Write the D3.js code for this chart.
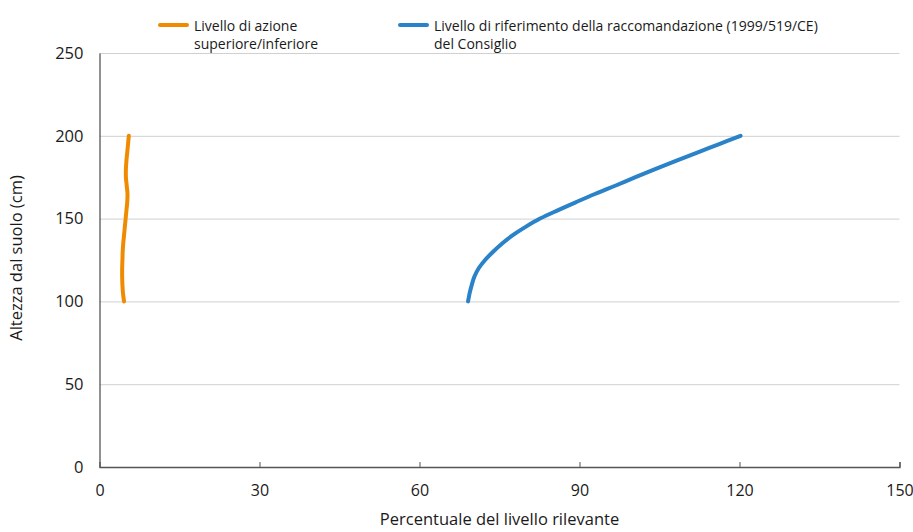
<!DOCTYPE html>
<html>
<head>
<meta charset="utf-8">
<script src="https://cdn.jsdelivr.net/npm/d3@7"></script>
<style>
  html, body { margin: 0; padding: 0; background: #fff; }
  svg { display: block; }
  text { font-family: "Open Sans", "DejaVu Sans", sans-serif; fill: #1a1a1a; }
</style>
</head>
<body>
<svg id="chart" width="913" height="532"></svg>
<script>
// ---- data ----
const heights = [100,105,110,115,120,125,130,135,140,145,150,155,160,165,170,175,180,185,190,195,200];
const orangeValues = [4.6,4.4,4.3,4.25,4.25,4.3,4.35,4.45,4.6,4.75,4.9,5.05,5.2,5.25,5.1,4.95,4.95,5.05,5.2,5.35,5.5];
const blueValues = [69.1,69.4,69.8,70.3,71.1,72.3,73.8,75.5,77.5,79.9,82.6,85.9,89.4,93.0,96.8,100.5,104.3,108.2,112.2,116.2,120.2];
const xTicks = [0,30,60,90,120,150];
const yTicks = [0,50,100,150,200,250];
const seriesNames = ["Livello di azione\nsuperiore/inferiore", "Livello di riferimento della raccomandazione (1999/519/CE)\ndel Consiglio"];
const seriesColors = ["#f08a00", "#2a82c8"];
const xTitle = "Percentuale del livello rilevante";
const yTitle = "Altezza dal suolo (cm)";

// ---- layout ----
const svg = d3.select("#chart");
const m = {left: 99.5, right: 899.5, top: 53, bottom: 467};
const x = d3.scaleLinear().domain([0,150]).range([m.left, m.right]);
const y = d3.scaleLinear().domain([0,250]).range([m.bottom, m.top]);

// gridlines
svg.append("g").selectAll("line").data(yTicks.filter(d => d > 0)).join("line")
  .attr("x1", m.left).attr("x2", m.right)
  .attr("y1", d => y(d) + 0.5).attr("y2", d => y(d) + 0.5)
  .attr("stroke", "#d0d0d0").attr("stroke-width", 1);

// x axis
const xAxis = d3.axisBottom(x).tickValues(xTicks).tickSize(-5).tickPadding(14).tickFormat(d3.format("d"));
const gx = svg.append("g").attr("transform", `translate(0,${m.bottom})`).call(xAxis);
gx.select(".domain").attr("stroke", "#555").attr("stroke-width", 1.3);
gx.selectAll(".tick line").attr("stroke", "#555");
gx.selectAll(".tick text").attr("font-size", 16).attr("fill", "#1a1a1a")
  .attr("dy", null).attr("y", 29)
  .style("font-family", "'Open Sans', sans-serif");
gx.selectAll(".tick").filter(d => d === 0).select("line").remove();

// y axis
const yAxis = d3.axisLeft(y).tickValues(yTicks).tickSize(0).tickPadding(16).tickFormat(d3.format("d"));
const gy = svg.append("g").attr("transform", `translate(${m.left},0)`).call(yAxis);
gy.select(".domain").attr("stroke", "#555").attr("stroke-width", 1.3);
gy.selectAll(".tick text").attr("font-size", 16.5).attr("fill", "#1a1a1a")
  .style("font-family", "'Open Sans', sans-serif");

// titles
svg.append("text").attr("x", (m.left + m.right) / 2).attr("y", 525)
  .attr("text-anchor", "middle").attr("font-size", 16.5).text(xTitle);
svg.append("text").attr("transform", `translate(22,${(m.top + m.bottom) / 2 - 2}) rotate(-90)`)
  .attr("text-anchor", "middle").attr("font-size", 16.5).text(yTitle);

// lines
const series = [orangeValues, blueValues];
const line = d3.line()
  .x(d => x(d[0])).y(d => y(d[1]))
  .curve(d3.curveCatmullRom.alpha(0.5));
series.forEach((vals, i) => {
  const pts = heights.map((h, j) => [vals[j], h]);
  svg.append("path").datum(pts).attr("d", line)
    .attr("fill", "none").attr("stroke", seriesColors[i])
    .attr("stroke-width", 4).attr("stroke-linecap", "round").attr("stroke-linejoin", "round");
});

// legend
const legendX = [160, 400];
seriesNames.forEach((name, i) => {
  const g = svg.append("g").attr("transform", `translate(${legendX[i]},25)`);
  g.append("line").attr("x1", 0).attr("x2", 27).attr("y1", 0).attr("y2", 0)
    .attr("stroke", seriesColors[i]).attr("stroke-width", 4).attr("stroke-linecap", "round");
  name.split("\n").forEach((ln, k) => {
    g.append("text").attr("x", 34).attr("y", 6 + k * 17.5).attr("font-size", 14).text(ln);
  });
});
</script>
</body>
</html>
